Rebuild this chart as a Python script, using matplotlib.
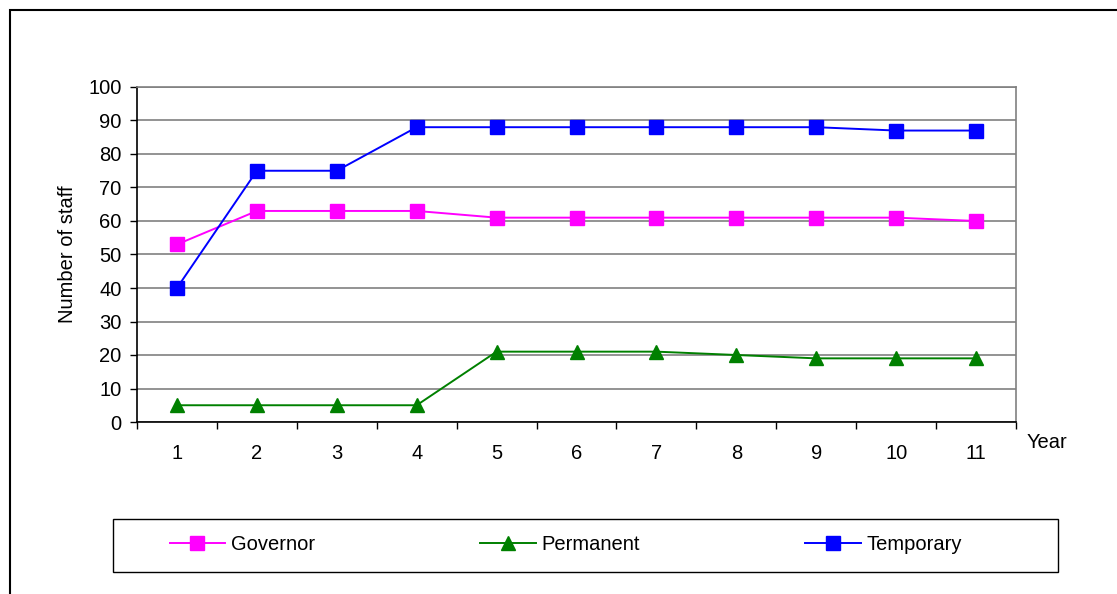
import matplotlib
matplotlib.use('Agg')
import matplotlib.pyplot as plt
from matplotlib.patches import Rectangle

plt.rcParams['font.family'] = ['Liberation Sans', 'DejaVu Sans']
FS = 14.5

# Staff numbers per year
YEARS = [1, 2, 3, 4, 5, 6, 7, 8, 9, 10, 11]
GOVERNOR = [53, 63, 63, 63, 61, 61, 61, 61, 61, 61, 60]
PERMANENT = [5, 5, 5, 5, 21, 21, 21, 20, 19, 19, 19]
TEMPORARY = [40, 75, 75, 88, 88, 88, 88, 88, 88, 87, 87]

W, H = 1117, 594
fig = plt.figure(figsize=(W / 100, H / 100), dpi=100)

# outer chart frame
fig.patches.append(Rectangle((10 / W, -0.1), 1.2, 1.1 - 10 / H, transform=fig.transFigure,
                             fill=False, edgecolor='black', linewidth=1.5))

ax = fig.add_axes([137 / W, 1 - 422 / H, (1016 - 137) / W, (422 - 87) / H])

ax.plot(YEARS, GOVERNOR, color='#ff00ff', marker='s', markersize=9.5, linewidth=1.4, label='Governor')
ax.plot(YEARS, PERMANENT, color='#008000', marker='^', markersize=10.5, linewidth=1.4, label='Permanent')
ax.plot(YEARS, TEMPORARY, color='#0000ff', marker='s', markersize=9.5, linewidth=1.4, label='Temporary')

ax.set_xlim(0.5, 11.5)
ax.set_ylim(0, 100)
ax.set_yticks(range(0, 101, 10))
ax.set_xticks(YEARS)
ax.set_xticks([y + 0.5 for y in [0] + YEARS], minor=True)
ax.tick_params(axis='x', which='major', length=0, pad=16, labelsize=FS)
ax.tick_params(axis='x', which='minor', length=5, width=1, direction='out', color='black')
ax.tick_params(axis='y', length=5, width=1, direction='out', labelsize=FS, pad=6)
ax.yaxis.grid(True, color='#808080', linewidth=1.2)
ax.set_axisbelow(True)

for side in ('top', 'right'):
    ax.spines[side].set_color('#808080')
    ax.spines[side].set_linewidth(1.2)
for side in ('left', 'bottom'):
    ax.spines[side].set_color('black')
    ax.spines[side].set_linewidth(1.2)

ax.set_ylabel('Number of staff', fontsize=FS, labelpad=8)
fig.text(1027 / W, 1 - 442 / H, 'Year', fontsize=FS, va='center', ha='left')

# legend box below the plot
fig.patches.append(Rectangle((113 / W, 1 - 572 / H), (1058 - 113) / W, (572 - 519) / H,
                             transform=fig.transFigure, fill=False, edgecolor='black', linewidth=1.0))
fig.legend(loc='center', ncol=3, bbox_to_anchor=(566 / W, 1 - 545 / H),
           frameon=False, fontsize=FS, handlelength=2.75, handletextpad=0.3,
           columnspacing=8.2, borderaxespad=0, borderpad=0)

fig.savefig('out.png', dpi=100)
